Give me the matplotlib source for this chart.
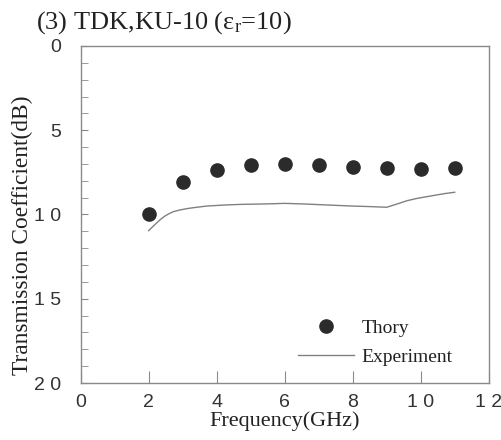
import matplotlib
matplotlib.use("Agg")
import matplotlib.pyplot as plt

# Data
theory_freq = [2, 3, 4, 5, 6, 7, 8, 9, 10, 11]
theory_db = [10.0, 8.1, 7.35, 7.05, 7.0, 7.08, 7.2, 7.24, 7.3, 7.24]

exp_freq = [2.0, 2.12, 2.24, 2.36, 2.48, 2.6, 2.73, 2.9, 3.1, 3.3, 3.7, 4.2, 4.7, 5.5, 6.0, 6.5,
            7.3, 8.0, 8.5, 9.0, 9.3, 9.6, 9.9, 10.3, 10.7, 11.0]
exp_db = [10.96, 10.72, 10.49, 10.27, 10.09, 9.95, 9.83, 9.74, 9.66, 9.6, 9.5, 9.44, 9.4, 9.37,
          9.34, 9.37, 9.44, 9.5, 9.53, 9.57, 9.38, 9.18, 9.04, 8.9, 8.76, 8.68]

x_ticks = [0, 2, 4, 6, 8, 10, 12]
x_labels = ["0", "2", "4", "6", "8", "1 0", "1 2"]
y_ticks = [0, 5, 10, 15, 20]
y_labels = ["0", "5", "1 0", "1 5", "2 0"]

title = "(3) TDK,KU-10 ($\\mathregular{\\varepsilon_r}$=10)"

fig = plt.figure(figsize=(5.01, 4.4), dpi=100)
ax = fig.add_axes([0.161, 0.1295, 0.8145, 0.766])

serif = "Liberation Serif"
sans = "Liberation Sans"
axcol = "#8a8a8a"

ax.plot(theory_freq, theory_db, "o", color="#2b2b2b", markersize=9.5, label="Thory")
ax.plot(exp_freq, exp_db, "-", color="#808080", linewidth=1.0, label="Experiment")

ax.set_xlim(0, 12)
ax.set_ylim(20, 0)

for s in ax.spines.values():
    s.set_color(axcol)
    s.set_linewidth(1.0)

ax.set_xticks(x_ticks)
ax.set_xticklabels(x_labels, fontfamily=sans, fontsize=14, color="#333333")
ax.set_yticks(y_ticks)
ax.set_yticklabels(y_labels, fontfamily=sans, fontsize=14, color="#333333")
ax.set_yticks(range(0, 21), minor=True)
ax.tick_params(axis="x", which="major", direction="in", length=9, color=axcol, pad=8)
ax.tick_params(axis="y", which="major", direction="in", length=5, color=axcol, pad=14)
ax.tick_params(axis="y", which="minor", direction="in", length=5, color=axcol)

ax.set_xlabel("Frequency(GHz)", fontfamily=serif, fontsize=16, color="#222222", labelpad=0)
ax.set_ylabel("Transmission Coefficient(dB)", fontfamily=serif, fontsize=16.8, color="#222222")
ax.yaxis.set_label_coords(-0.117, 0.438)

leg = ax.legend(loc="lower right", frameon=False, prop={"family": serif, "size": 14},
                handlelength=2.9, handletextpad=0.4, labelspacing=0.55,
                bbox_to_anchor=(0.955, 0.0))
for t in leg.get_texts():
    t.set_color("#222222")

fig.text(0.072, 0.948, title, fontfamily=serif, fontsize=19, color="#222222", va="center")

fig.savefig("out.png", dpi=100)
